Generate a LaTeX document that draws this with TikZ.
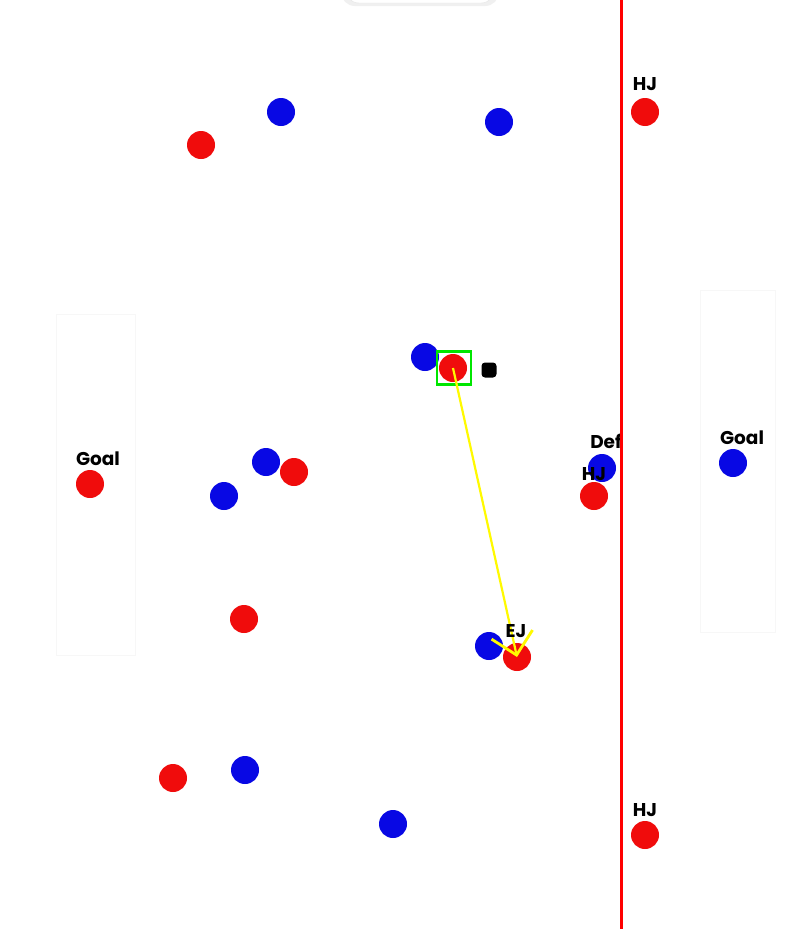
\documentclass[tikz,border=0pt]{standalone}
\usepackage{fontspec}
\setmainfont{Poppins}
\usetikzlibrary{arrows.meta}
\definecolor{tred}{RGB}{240,12,12}
\definecolor{tblue}{RGB}{8,8,228}
\definecolor{tgreen}{RGB}{0,230,0}
\definecolor{tyellow}{RGB}{255,250,0}
\tikzset{
  ball/.style={circle,minimum size=28pt,inner sep=0pt},
  redball/.style={ball,fill=tred},
  blueball/.style={ball,fill=tblue},
  lbl/.style={anchor=base,inner sep=0pt,font=\fontsize{18.5}{18.5}\selectfont\bfseries,text=black},
  goalbox/.style={draw=black!3,line width=1pt},
}
\begin{document}
\begin{tikzpicture}[x=1pt,y=-1pt]
\useasboundingbox[fill=white] (0,0) rectangle (797,929);
% faint top panel
\fill[black!6,rounded corners=14pt] (341,-30) rectangle (499,6);
\draw[black!10,fill=white,rounded corners=14pt] (345,-30) rectangle (495,3);
% faint goal boxes
\draw[goalbox] (56,314) rectangle (135,655);
\draw[goalbox] (700,290) rectangle (775,632);
% blue players
\node[blueball] (b1) at (281,112) {};
\node[blueball] (b2) at (499,122) {};
\node[blueball] (b3) at (425,357) {};
\node[blueball] (b4) at (266,462) {};
\node[blueball] (b5) at (224,496) {};
\node[blueball] (bdef) at (602,468) {};
\node[blueball] (bgoal) at (733,463) {};
\node[blueball] (b8) at (489,646) {};
\node[blueball] (b9) at (245,770) {};
\node[blueball] (b10) at (393,824) {};
% red players
\node[redball] (r1) at (201,145) {};
\node[redball] (rhj1) at (645,112) {};
\node[redball] (rp) at (453,368) {};
\node[redball] (r4) at (294,472) {};
\node[redball] (rgoal) at (90,484) {};
\node[redball] (rhj2) at (594,496) {};
\node[redball] (r7) at (244,619) {};
\node[redball] (rej) at (517,657) {};
\node[redball] (r9) at (173,778) {};
\node[redball] (rhj3) at (645,835) {};
% selection box and ball marker
\node[draw=tgreen,line width=2.5pt,minimum width=34pt,minimum height=33pt,inner sep=0pt] (sel) at (454,368) {};
\node[fill=black,rounded corners=3.5pt,minimum size=15pt,inner sep=0pt] (mk) at (489,370) {};
% pass arrow
\draw[tyellow,line width=2.2pt,-{Straight Barb[length=21pt,width=42pt,line width=2.8pt]}] (rp.center) -- (rej.center);
% labels
\node[lbl] (t1) at (645,90) {HJ};
\node[lbl] (t2) at (645,816) {HJ};
\node[lbl] (t3) at (98,465) {Goal};
\node[lbl] (t4) at (742,444) {Goal};
\node[lbl] (t5) at (606,448) {Def};
\node[lbl] (t6) at (594,480) {HJ};
\node[lbl] (t7) at (516,637) {EJ};
% offside line
\coordinate (lt) at (621,0);
\coordinate (lb) at (621,929);
\draw[red,line width=3pt] (lt) -- (lb);
\end{tikzpicture}
\end{document}
